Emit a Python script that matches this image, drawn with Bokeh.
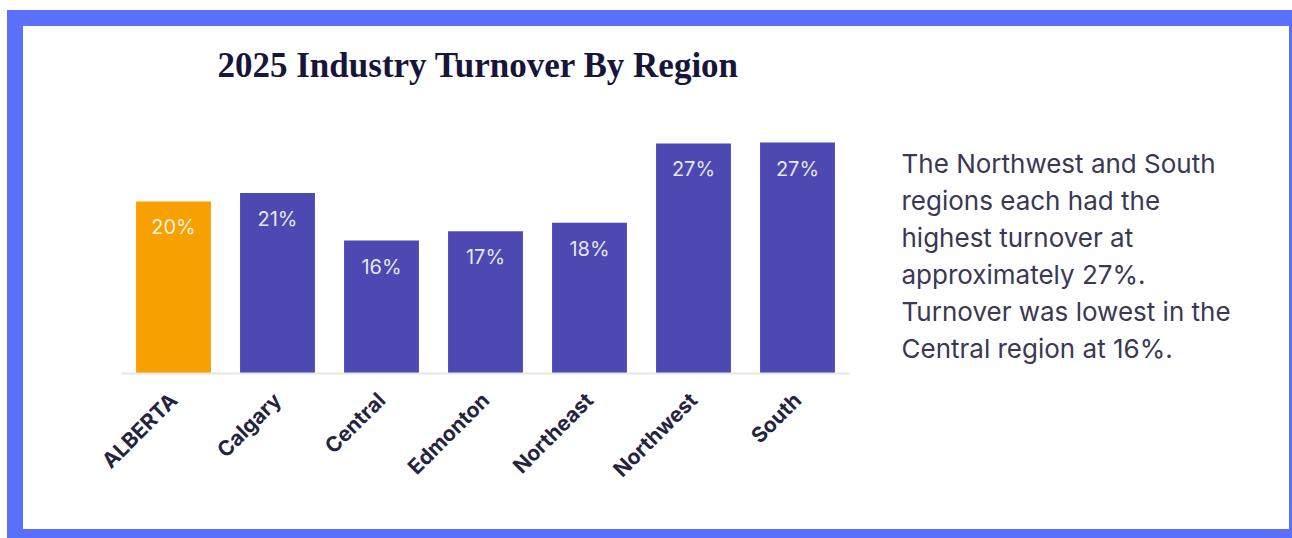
import math
from bokeh.plotting import figure
from bokeh.layouts import row
from bokeh.models import ColumnDataSource, LabelSet, Range1d
from bokeh.embed import file_html
from bokeh.resources import INLINE
from bokeh.core.properties import value

regions = ["ALBERTA", "Calgary", "Central", "Edmonton", "Northeast", "Northwest", "South"]
turnover = [20.2, 21.2, 15.6, 16.7, 17.7, 27.0, 27.1]
value_labels = ["20%", "21%", "16%", "17%", "18%", "27%", "27%"]
bar_colors = ["#f7a100", "#4d48b2", "#4d48b2", "#4d48b2", "#4d48b2", "#4d48b2", "#4d48b2"]
title_text = "2025 Industry Turnover By Region"
note_lines = [
    "The Northwest and South",
    "regions each had the",
    "highest turnover at",
    "approximately 27%.",
    "Turnover was lowest in the",
    "Central region at 16%.",
]

BLUE = "#5a6ffb"
H = 528
WP, WQ = 863, 422
LEFT, FRAME_W, FRAME_H = 98, 728, 347
PX_PER_PCT = 8.52
Y_END = FRAME_H / PX_PER_PCT

src = ColumnDataSource(dict(region=regions, turnover=turnover, label=value_labels, color=bar_colors))

p = figure(x_range=regions, y_range=(0, Y_END), width=WP, height=H,
           output_backend="svg", toolbar_location=None,
           min_border_left=LEFT, min_border_right=WP - LEFT - FRAME_W,
           min_border_top=0, min_border_bottom=H - FRAME_H,
           background_fill_color="white", border_fill_color="white")
p.styles = {"margin-left": "7px", "margin-top": "10px",
            "border-left": f"16px solid {BLUE}", "border-top": f"16px solid {BLUE}",
            "border-bottom": f"9px solid {BLUE}", "overflow": "hidden"}

p.vbar(x="region", top="turnover", width=0.72, color="color", line_color=None, source=src)

p.add_layout(LabelSet(x="region", y="turnover", text="label", source=src,
                      y_offset=-26, text_align="center", text_baseline="middle",
                      text_color="white", text_alpha=0.88,
                      text_font=value("Inter"), text_font_size="20px"))

# chart title, inside the (tall) frame
p.text(x=[regions[0]], y=[Y_END * (1 - 39 / FRAME_H)], text=[title_text],
       x_offset=44, text_align="left", text_baseline="middle",
       text_font=value("Liberation Serif"), text_font_style="bold",
       text_font_size="35px", text_color="#17163a")

p.outline_line_color = None
p.xgrid.grid_line_color = None
p.ygrid.grid_line_color = None
p.yaxis.visible = False
p.xaxis.axis_line_color = "#e6e6e6"
p.xaxis.axis_line_width = 2
p.xaxis.major_tick_line_color = None
p.xaxis.minor_tick_line_color = None
p.xaxis.major_label_orientation = math.pi / 4
p.xaxis.major_label_standoff = 17
p.xaxis.major_label_text_font = "Inter"
p.xaxis.major_label_text_font_style = "bold"
p.xaxis.major_label_text_font_size = "21px"
p.xaxis.major_label_text_color = "#25243f"

# side note panel (same frame height as the bar chart, y measured from the top)
q = figure(x_range=Range1d(0, WQ), y_range=Range1d(FRAME_H, 0), width=WQ, height=H,
           output_backend="svg", toolbar_location=None,
           x_axis_location=None, y_axis_location=None,
           min_border_left=0, min_border_right=0, min_border_top=0,
           min_border_bottom=H - FRAME_H,
           background_fill_color="white", border_fill_color="white")
q.styles = {"margin-top": "10px", "border-top": f"16px solid {BLUE}",
            "border-right": f"3px solid {BLUE}", "border-bottom": f"9px solid {BLUE}",
            "overflow": "hidden"}
q.grid.grid_line_color = None
q.outline_line_color = None
note_y = [137 + 37 * i for i in range(len(note_lines))]
q.text(x=[31] * len(note_lines), y=note_y, text=note_lines,
       text_align="left", text_baseline="middle",
       text_font=value("Inter"), text_font_size="26px", text_color="#3a3854")

layout = row(p, q, spacing=0)
open("out.html", "w").write(file_html(layout, INLINE))
